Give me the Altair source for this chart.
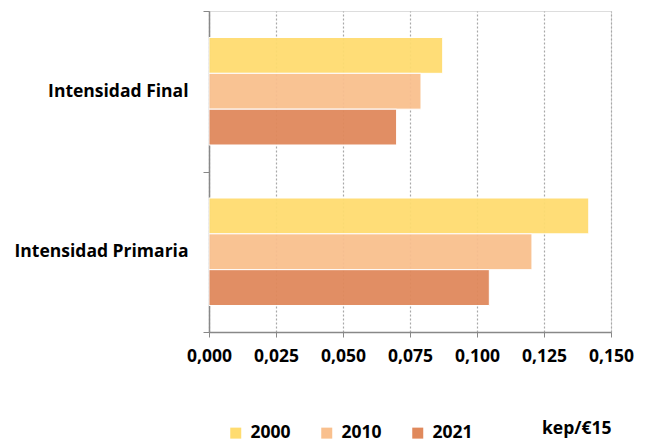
import altair as alt
import pandas as pd

# Energy intensity by indicator and year (kep/€15)
indicators = ["Intensidad Final", "Intensidad Primaria"]
years = ["2000", "2010", "2021"]
final_values = [0.0872, 0.0791, 0.0700]
primary_values = [0.1417, 0.1205, 0.1046]
colors = ["#FFDC70", "#F9C08E", "#E0895C"]
x_ticks = [0.0, 0.025, 0.05, 0.075, 0.1, 0.125, 0.15]

rows = []
for ind, vals in zip(indicators, [final_values, primary_values]):
    for yr, v in zip(years, vals):
        rows.append({"indicador": ind, "anio": yr, "valor": v})
df = pd.DataFrame(rows)

FONT = "Open Sans"
FSIZE = 17.5

bars = alt.Chart(df).mark_bar(stroke="white", strokeWidth=1, opacity=0.95).encode(
    y=alt.Y(
        "indicador:N",
        sort=indicators,
        scale=alt.Scale(paddingInner=0, paddingOuter=0),
        axis=alt.Axis(
            title=None,
            tickBand="extent",
            tickSize=6,
            tickColor="#888888",
            domainColor="#888888",
            domainWidth=1.5,
            labelPadding=15,
            labelFont=FONT,
            labelFontSize=FSIZE,
            labelFontWeight="bold",
            labelColor="#000000",
            labelLimit=300,
        ),
    ),
    yOffset=alt.YOffset(
        "anio:N",
        sort=years,
        scale=alt.Scale(paddingOuter=0.74, paddingInner=0),
    ),
    x=alt.X(
        "valor:Q",
        scale=alt.Scale(domain=[0, 0.15], nice=False),
        axis=alt.Axis(
            values=x_ticks,
            labelExpr="replace(format(datum.value, '.3f'), '.', ',')",
            labelFlush=False,
            labelOverlap=False,
            grid=True,
            gridDash=[2, 2],
            gridColor="#A8A8A8",
            gridWidth=1.2,
            tickSize=5,
            tickColor="#888888",
            domainColor="#888888",
            domainWidth=1.5,
            labelPadding=10,
            labelFont=FONT,
            labelFontSize=FSIZE,
            labelFontWeight="bold",
            labelColor="#000000",
            title="kep/€15",
            titleFont=FONT,
            titleFontSize=FSIZE,
            titleFontWeight="bold",
            titleColor="#000000",
            titleAlign="right",
            titleBaseline="middle",
            titleX=402,
            titleY=96,
        ),
    ),
    color=alt.Color(
        "anio:N",
        sort=years,
        scale=alt.Scale(domain=years, range=colors),
        legend=alt.Legend(
            title=None,
            orient="none",
            legendX=18,
            legendY=413,
            direction="horizontal",
            columns=3,
            columnPadding=27,
            symbolType="square",
            symbolSize=121,
            symbolStrokeWidth=0,
            symbolOpacity=1,
            labelFont=FONT,
            labelFontSize=FSIZE,
            labelFontWeight="bold",
            labelColor="#000000",
            labelOffset=6,
        ),
    ),
)

chart = bars.properties(
    width=402,
    height=321,
    autosize=alt.AutoSizeParams(type="none"),
    padding={"left": 209, "top": 11, "right": 38, "bottom": 114},
).configure_view(
    stroke="#A6A6A6",
    strokeWidth=1.5,
).configure(background="white")

chart.save("out.html", embed_options={"renderer": "svg", "actions": False})
